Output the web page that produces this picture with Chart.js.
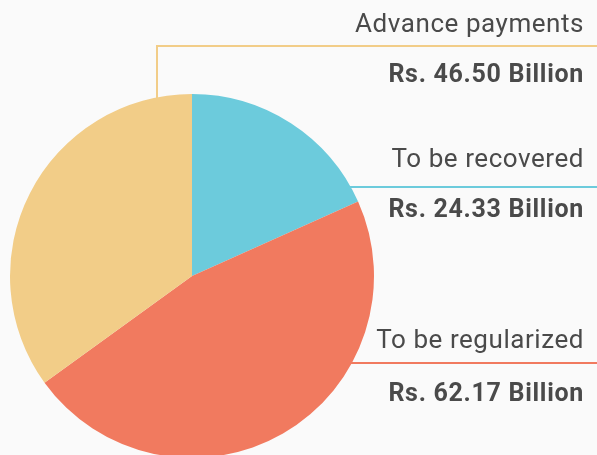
<!DOCTYPE html>
<html>
<head>
<meta charset="utf-8">
<script src="https://cdn.jsdelivr.net/npm/chart.js@4/dist/chart.umd.min.js"></script>
<style>
html,body{margin:0;padding:0;background:#fafafa;overflow:hidden;}
#wrap{position:relative;width:597px;height:460px;}
</style>
</head>
<body>
<div id="wrap"><canvas id="c"></canvas></div>
<script>
const categories = ["To be recovered", "To be regularized", "Advance payments"];
const values = [24.33, 62.17, 46.50];
const valueLabels = ["Rs. 24.33 Billion", "Rs. 62.17 Billion", "Rs. 46.50 Billion"];
const colors = ["#6ccbdc", "#f17a5f", "#f2cd88"];

const labelLayout = [
  {lineY: 187, titleY: 167, valueY: 217},
  {lineY: 363, titleY: 348, valueY: 401},
  {lineY: 46, titleY: 32, valueY: 82, elbowX: 157}
];

const leaderPlugin = {
  id: 'leaders',
  afterDatasetsDraw(chart) {
    const ctx = chart.ctx;
    const meta = chart.getDatasetMeta(0);
    const W = chart.width;
    const textX = 584;
    ctx.save();
    meta.data.forEach((arc, i) => {
      const L = labelLayout[i];
      const cx = arc.x, cy = arc.y, r = arc.outerRadius;
      ctx.strokeStyle = colors[i];
      ctx.lineWidth = 2;
      ctx.beginPath();
      if (L.elbowX !== undefined) {
        const dx = L.elbowX - cx;
        const yEdge = cy - Math.sqrt(Math.max(0, r*r - dx*dx));
        ctx.moveTo(L.elbowX, yEdge + 2);
        ctx.lineTo(L.elbowX, L.lineY);
        ctx.lineTo(W, L.lineY);
      } else {
        const dy = L.lineY - cy;
        const xEdge = cx + Math.sqrt(Math.max(0, r*r - dy*dy));
        ctx.moveTo(xEdge - 2, L.lineY);
        ctx.lineTo(W, L.lineY);
      }
      ctx.stroke();
      ctx.fillStyle = '#4a4a4a';
      ctx.textAlign = 'right';
      ctx.textBaseline = 'alphabetic';
      ctx.font = '400 26px Roboto';
      ctx.letterSpacing = '0.55px';
      ctx.fillText(categories[i], textX, L.titleY);
      ctx.font = '700 25px Roboto';
      ctx.letterSpacing = '0.7px';
      ctx.fillText(valueLabels[i], textX, L.valueY);
    });
    ctx.restore();
  }
};

new Chart(document.getElementById('c'), {
  type: 'pie',
  data: {
    labels: categories,
    datasets: [{
      data: values,
      backgroundColor: colors,
      borderWidth: 0
    }]
  },
  options: {
    responsive: true,
    maintainAspectRatio: false,
    animation: false,
    layout: {padding: {left: 10, right: 223, top: 94, bottom: 2}},
    plugins: {legend: {display: false}, tooltip: {enabled: false}}
  },
  plugins: [leaderPlugin]
});
</script>
</body>
</html>
